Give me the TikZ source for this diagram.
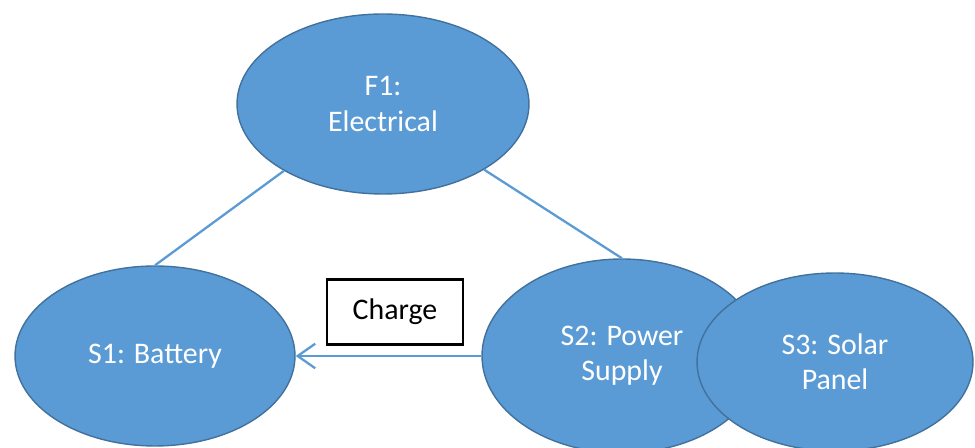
\documentclass[tikz,border=0pt]{standalone}
\usepackage{fontspec}
\setmainfont{Carlito}
\usetikzlibrary{positioning}
\usetikzlibrary{arrows.meta}
\usetikzlibrary{shapes.geometric}
\definecolor{fillblue}{RGB}{91,155,213}
\definecolor{edgeblue}{RGB}{65,113,156}

\begin{document}
\begin{tikzpicture}[x=0.02cm, y=-0.02cm, >={Straight Barb[length=10pt, width=14pt]},
    blob/.style={ellipse, draw=edgeblue, fill=fillblue, line width=0.8pt, text=white,
        align=center, inner sep=0pt, font=\fontsize{17}{20}\selectfont},
    link/.style={draw=fillblue, line width=1.3pt},
    tag/.style={draw=black, fill=white, line width=1.3pt, minimum width=2.72cm,
        minimum height=1.3cm, font=\fontsize{17}{20}\selectfont}]
    \useasboundingbox (0,0) rectangle (975,448);
    \node[blob, minimum width=5.84cm, minimum height=3.6cm] (f1) at (383,104) {F1:\\Electrical};
    \node[blob, minimum width=5.6cm, minimum height=3.6cm] (s1) at (155,356) {S1: Battery};
    \node[blob, minimum width=5.6cm, minimum height=3.88cm] (s2) at (622,356) {S2: Power\\Supply};
    \node[blob, minimum width=5.52cm, minimum height=3.56cm] (s3) at (835,362) {S3: Solar\\Panel};
    \node[tag] (charge) at (395,312) {Charge};
    % links between functions and systems
    \draw[link] (f1.214) -- (s1.north);
    \draw[link] (f1.327) -- (s2.north);
    \draw[link, ->] (s2.west) -- (s1.east);
\end{tikzpicture}
\end{document}
